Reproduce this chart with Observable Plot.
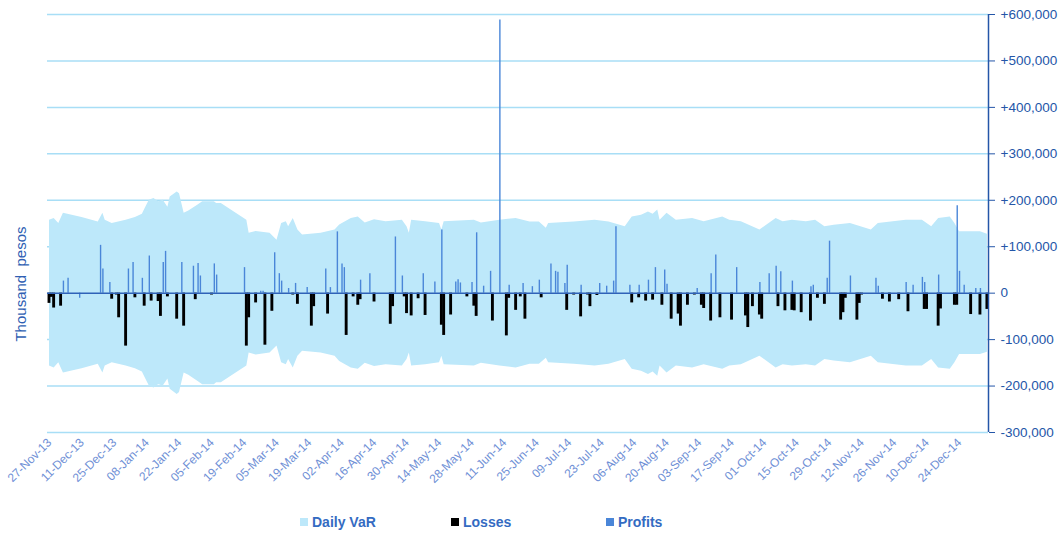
<!DOCTYPE html>
<html><head><meta charset="utf-8">
<script src="https://cdn.jsdelivr.net/npm/d3@7"></script>
<script src="https://cdn.jsdelivr.net/npm/@observablehq/plot@0.6"></script>
<style>
body{margin:0;background:#fff;}
#wrap{position:relative;width:1064px;height:533px;font-family:"Liberation Sans",Arial,sans-serif;overflow:hidden;}
#chart{position:absolute;left:0;top:0;}
.ytitle{position:absolute;left:20px;top:284px;transform:translate(-50%,-50%) rotate(-90deg);font-size:15px;color:#2f5fb3;white-space:pre;}
.leg{position:absolute;top:513px;height:18px;line-height:18px;font-weight:bold;font-size:14px;color:#346bc2;display:flex;align-items:center;}
.sw{width:8px;height:8px;margin-right:4px;display:inline-block;}
</style></head>
<body>
<div id="wrap">
  <div id="chart"></div>
  <div class="ytitle">Thousand  pesos</div>
  <div class="leg" style="left:300px"><span class="sw" style="background:#bde8fa"></span>Daily VaR</div>
  <div class="leg" style="left:451px"><span class="sw" style="background:#000"></span>Losses</div>
  <div class="leg" style="left:606px"><span class="sw" style="background:#4a86d8"></span>Profits</div>
</div>
<script>
// Daily VaR (symmetric band: +VaR / -VaR), thousand pesos
const varSeries = [["2013-11-27",157000],["2013-11-29",161000],["2013-12-01",150000],["2013-12-03",172000],["2013-12-11",163000],["2013-12-18",153000],["2013-12-20",172000],["2013-12-21",157000],["2013-12-24",150000],["2013-12-30",157000],["2014-01-03",163000],["2014-01-06",170000],["2014-01-07",180000],["2014-01-09",200000],["2014-01-11",204000],["2014-01-13",197000],["2014-01-15",200000],["2014-01-17",185000],["2014-01-18",207000],["2014-01-21",218000],["2014-01-22",214000],["2014-01-24",172000],["2014-01-26",177000],["2014-01-30",190000],["2014-02-01",197000],["2014-02-06",197000],["2014-02-07",193000],["2014-02-09",193000],["2014-02-20",157000],["2014-02-21",129000],["2014-02-24",133000],["2014-03-02",129000],["2014-03-05",114000],["2014-03-07",150000],["2014-03-09",154000],["2014-03-10",143000],["2014-03-12",161000],["2014-03-14",136000],["2014-03-16",125000],["2014-03-24",129000],["2014-03-30",136000],["2014-04-01",147000],["2014-04-06",161000],["2014-04-09",164000],["2014-04-12",151000],["2014-04-16",158000],["2014-04-21",154000],["2014-04-28",157000],["2014-04-30",143000],["2014-05-01",129000],["2014-05-02",157000],["2014-05-08",154000],["2014-05-14",150000],["2014-05-15",136000],["2014-05-16",154000],["2014-05-29",157000],["2014-06-01",151000],["2014-06-09",157000],["2014-06-16",161000],["2014-06-22",153000],["2014-06-26",153000],["2014-06-29",140000],["2014-06-30",150000],["2014-07-11",153000],["2014-07-20",157000],["2014-07-26",153000],["2014-08-02",143000],["2014-08-05",164000],["2014-08-09",168000],["2014-08-12",175000],["2014-08-14",170000],["2014-08-16",179000],["2014-08-17",157000],["2014-08-20",172000],["2014-08-24",157000],["2014-08-31",161000],["2014-09-05",154000],["2014-09-13",164000],["2014-09-16",157000],["2014-09-21",154000],["2014-09-29",136000],["2014-10-01",143000],["2014-10-06",161000],["2014-10-09",154000],["2014-10-13",157000],["2014-10-19",154000],["2014-10-23",157000],["2014-10-27",143000],["2014-10-31",146000],["2014-11-07",150000],["2014-11-16",136000],["2014-11-19",150000],["2014-12-01",157000],["2014-12-08",157000],["2014-12-12",143000],["2014-12-15",161000],["2014-12-20",164000],["2014-12-22",150000],["2014-12-24",132000],["2015-01-02",132000],["2015-01-05",127000]];

// Losses
const lossSeries = [["2013-11-27",-22000],["2013-11-28",-9000],["2013-11-29",-32000],["2013-12-02",-28000],["2013-12-24",-13000],["2013-12-26",-4000],["2013-12-27",-53000],["2013-12-30",-114000],["2014-01-03",-10000],["2014-01-07",-28000],["2014-01-10",-17000],["2014-01-13",-18000],["2014-01-14",-50000],["2014-01-17",-8000],["2014-01-21",-56000],["2014-01-24",-71000],["2014-01-29",-14000],["2014-02-05",-4000],["2014-02-20",-114000],["2014-02-21",-53000],["2014-02-24",-21000],["2014-02-28",-112000],["2014-03-03",-39000],["2014-03-12",-4000],["2014-03-14",-24000],["2014-03-20",-71000],["2014-03-21",-29000],["2014-03-27",-45000],["2014-04-04",-91000],["2014-04-07",-8000],["2014-04-09",-26000],["2014-04-10",-14000],["2014-04-16",-19000],["2014-04-23",-67000],["2014-04-24",-29000],["2014-04-29",-8000],["2014-04-30",-44000],["2014-05-02",-49000],["2014-05-05",-12000],["2014-05-08",-48000],["2014-05-15",-69000],["2014-05-16",-91000],["2014-05-19",-47000],["2014-05-26",-8000],["2014-05-29",-28000],["2014-05-30",-50000],["2014-06-06",-60000],["2014-06-12",-92000],["2014-06-13",-11000],["2014-06-16",-37000],["2014-06-18",-8000],["2014-06-20",-56000],["2014-06-27",-10000],["2014-07-08",-37000],["2014-07-11",-4000],["2014-07-14",-51000],["2014-07-17",-4000],["2014-07-18",-29000],["2014-07-21",-5000],["2014-08-05",-21000],["2014-08-08",-10000],["2014-08-11",-17000],["2014-08-14",-15000],["2014-08-18",-26000],["2014-08-22",-56000],["2014-08-25",-45000],["2014-08-26",-71000],["2014-08-29",-26000],["2014-09-01",-4000],["2014-09-04",-26000],["2014-09-05",-33000],["2014-09-08",-60000],["2014-09-12",-53000],["2014-09-17",-58000],["2014-09-23",-49000],["2014-09-24",-74000],["2014-09-26",-29000],["2014-09-29",-47000],["2014-09-30",-56000],["2014-10-07",-29000],["2014-10-10",-38000],["2014-10-13",-37000],["2014-10-14",-38000],["2014-10-17",-42000],["2014-10-21",-60000],["2014-10-24",-11000],["2014-10-27",-24000],["2014-11-03",-58000],["2014-11-04",-42000],["2014-11-05",-11000],["2014-11-10",-58000],["2014-11-11",-22000],["2014-11-12",-4000],["2014-11-21",-13000],["2014-11-24",-19000],["2014-11-28",-14000],["2014-12-02",-40000],["2014-12-09",-35000],["2014-12-10",-35000],["2014-12-15",-71000],["2014-12-16",-34000],["2014-12-22",-26000],["2014-12-23",-26000],["2014-12-29",-46000],["2015-01-02",-47000],["2015-01-05",-35000]];

// Profits
const profitSeries = [["2013-12-03",26000],["2013-12-05",32000],["2013-12-10",-11000],["2013-12-19",103000],["2013-12-20",52000],["2013-12-23",23000],["2013-12-31",52000],["2014-01-02",66000],["2014-01-06",32000],["2014-01-09",80000],["2014-01-15",66000],["2014-01-16",90000],["2014-01-23",66000],["2014-01-28",58000],["2014-01-30",64000],["2014-01-31",37000],["2014-02-06",63000],["2014-02-07",39000],["2014-02-19",55000],["2014-02-26",4000],["2014-02-27",4000],["2014-03-04",87000],["2014-03-06",42000],["2014-03-07",26000],["2014-03-10",10000],["2014-03-13",21000],["2014-03-18",12000],["2014-03-26",52000],["2014-03-28",12000],["2014-03-31",132000],["2014-04-02",63000],["2014-04-03",55000],["2014-04-10",28000],["2014-04-14",42000],["2014-04-25",121000],["2014-04-28",37000],["2014-05-07",42000],["2014-05-12",24000],["2014-05-15",136000],["2014-05-21",24000],["2014-05-22",29000],["2014-05-23",22000],["2014-05-28",23000],["2014-05-30",130000],["2014-06-02",15000],["2014-06-05",47000],["2014-06-09",588000],["2014-06-13",17000],["2014-06-19",21000],["2014-06-23",14000],["2014-06-26",28000],["2014-07-01",63000],["2014-07-03",47000],["2014-07-04",45000],["2014-07-07",21000],["2014-07-08",60000],["2014-07-14",17000],["2014-07-22",21000],["2014-07-25",15000],["2014-07-28",26000],["2014-07-29",143000],["2014-08-04",17000],["2014-08-08",17000],["2014-08-12",28000],["2014-08-15",55000],["2014-08-19",50000],["2014-08-20",19000],["2014-09-02",10000],["2014-09-08",42000],["2014-09-10",82000],["2014-09-19",55000],["2014-09-29",23000],["2014-10-03",42000],["2014-10-06",58000],["2014-10-08",46000],["2014-10-13",26000],["2014-10-21",14000],["2014-10-22",17000],["2014-10-28",32000],["2014-10-29",112000],["2014-11-07",37000],["2014-11-18",32000],["2014-11-19",15000],["2014-12-01",23000],["2014-12-04",17000],["2014-12-08",34000],["2014-12-09",23000],["2014-12-15",39000],["2014-12-23",188000],["2014-12-24",47000],["2014-12-26",17000],["2014-12-31",10000],["2015-01-02",10000]];

const xTickDates = ["2013-11-27","2013-12-11","2013-12-25","2014-01-08","2014-01-22","2014-02-05","2014-02-19","2014-03-05","2014-03-19","2014-04-02","2014-04-16","2014-04-30","2014-05-14","2014-05-28","2014-06-11","2014-06-25","2014-07-09","2014-07-23","2014-08-06","2014-08-20","2014-09-03","2014-09-17","2014-10-01","2014-10-15","2014-10-29","2014-11-12","2014-11-26","2014-12-10","2014-12-24"];
const yTicks = [-300000,-200000,-100000,0,100000,200000,300000,400000,500000,600000];

const DAY = 864e5;
const toRow = ([d, v]) => ({date: new Date(d), value: v});
const varData = varSeries.map(toRow);
const losses = lossSeries.map(toRow);
const profits = profitSeries.map(toRow);
const xTicks = xTickDates.map(d => new Date(d));
const xDomain = [new Date("2013-11-26T03:20:00Z"), new Date("2015-01-05T11:20:00Z")];
const fmt = d3.format(",");
const yFmt = d => d === 0 ? "0" : (d > 0 ? "+" : "-") + fmt(Math.abs(d));

const chart = Plot.plot({
  width: 1064,
  height: 505,
  marginLeft: 47,
  marginRight: 76,
  marginTop: 14,
  marginBottom: 73,
  style: {fontFamily: "'Liberation Sans', Arial, sans-serif", background: "transparent", overflow: "visible"},
  x: {type: "utc", domain: xDomain},
  y: {domain: [-300000, 600000]},
  marks: [
    Plot.gridY(yTicks, {stroke: "#a8def6", strokeOpacity: 1, strokeWidth: 1.5}),
    Plot.areaY(varData, {x: "date", y1: d => -d.value, y2: "value", fill: "#bde8fa", fillOpacity: 1}),
    Plot.rect(losses, {x1: d => new Date(+d.date - 0.62 * DAY), x2: d => new Date(+d.date + 0.62 * DAY), y1: () => 0, y2: "value", fill: "#000"}),
    Plot.ruleX(profits, {x: "date", y1: () => 0, y2: "value", stroke: "#4a86d8", strokeWidth: 1.4}),
    Plot.ruleY([0], {stroke: "#2f62b8", strokeWidth: 1.5}),
    Plot.ruleX([xDomain[1]], {y1: -300000, y2: 600000, stroke: "#2456a8", strokeWidth: 1.5}),
    Plot.axisY(yTicks, {anchor: "right", tickFormat: yFmt, tickSize: 6, tickPadding: 6, color: "#2456a8", fontSize: 13.5, label: null}),
    Plot.axisX(xTicks, {anchor: "bottom", tickFormat: d3.utcFormat("%d-%b-%y"), tickRotate: -45, tickSize: 0, tickPadding: 8, color: "#6f90d6", fontSize: 12, label: null})
  ]
});
document.getElementById("chart").appendChild(chart);
</script>
</body></html>
